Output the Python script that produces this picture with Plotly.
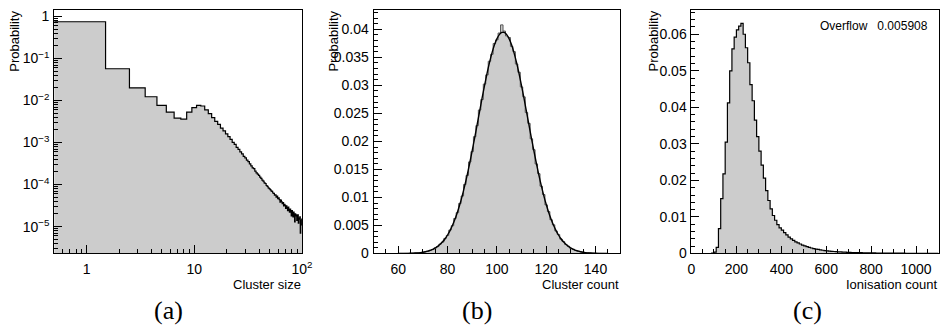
import plotly.graph_objects as go

# ---------------- data ----------------
# (a) cluster size distribution (bins of width 1 centred on integer sizes)
cluster_sizes = list(range(1, 101))
cluster_size_prob = [
    0.75, 0.057, 0.0201, 0.0123, 0.0077, 0.0053, 0.0038, 0.0036, 0.0053, 0.0068,
    0.0077, 0.0074, 0.0060, 0.0049, 0.0039, 0.0032, 0.0027, 0.0022, 0.0019, 0.0016,
    0.00138, 0.00119, 0.00101, 0.00090, 0.00077, 0.00069, 0.00060, 0.00054, 0.00047, 0.00043,
    0.00038, 0.00035, 0.00031, 0.00028, 0.00025, 0.00024, 0.00021, 0.00019, 0.000178, 0.000165,
    0.000150, 0.000141, 0.000128, 0.000121, 0.000110, 0.000106, 0.000095, 0.000091, 0.000083, 0.000080,
    0.000076, 0.000071, 0.000069, 0.000063, 0.000062, 0.000056, 0.000057, 0.000050, 0.000053, 0.000046,
    0.000048, 0.000044, 0.000038, 0.000043, 0.000039, 0.000035, 0.000037, 0.000031, 0.000034, 0.000032,
    0.000027, 0.000031, 0.000028, 0.000024, 0.000029, 0.000025, 0.000022, 0.000026, 0.000023, 0.000018,
    0.000024, 0.000021, 0.000017, 0.000022, 0.000019, 0.000013, 0.000020, 0.000018, 0.000019, 0.000014,
    0.000017, 0.000019, 0.000012, 0.000016, 0.000015, 0.000017, 0.0000070, 0.000014, 0.000011, 0.000015,
]

# (b) cluster count distribution (bins of width 1) and fitted curve
cluster_counts = list(range(60, 146))
cluster_count_prob = [
    0.000004, 0.00001, 0.000011, 0.00002, 0.000025, 0.000043, 0.000055, 0.000085, 0.00011, 0.000168,
    0.000215, 0.00031, 0.0004, 0.00057, 0.00072, 0.00101, 0.00123, 0.00168, 0.00203, 0.0027,
    0.00322, 0.00418, 0.00495, 0.00624, 0.00728, 0.00893, 0.01025, 0.01232, 0.01392, 0.01634,
    0.01818, 0.02085, 0.02282, 0.02561, 0.02748, 0.03024, 0.03188, 0.03431, 0.03556, 0.03748,
    0.03812, 0.03935, 0.0408, 0.0397, 0.03882, 0.03855, 0.03696, 0.03602, 0.03381, 0.03234,
    0.02972, 0.02795, 0.02515, 0.02322, 0.02046, 0.01852, 0.01598, 0.01425, 0.01201, 0.01052,
    0.00868, 0.00748, 0.00603, 0.00512, 0.00402, 0.00338, 0.00257, 0.00213, 0.00159, 0.0013,
    0.00094, 0.00077, 0.00053, 0.00043, 0.00029, 0.00023, 0.000155, 0.00012, 0.00008, 0.00006,
    0.000038, 0.000029, 0.000017, 0.000013, 0.000007, 0.000005,
]
cluster_count_fit = [
    0.000005, 0.000008, 0.000012, 0.000018, 0.000027, 0.00004, 0.000057, 0.000082, 0.000115, 0.00016,
    0.00022, 0.0003, 0.00041, 0.00055, 0.00074, 0.00097, 0.00126, 0.00163, 0.00208, 0.00263,
    0.0033, 0.00409, 0.00503, 0.00611, 0.00737, 0.00879, 0.01038, 0.01215, 0.01408, 0.01615,
    0.01835, 0.02064, 0.023, 0.02537, 0.02771, 0.02997, 0.0321, 0.03405, 0.03577, 0.0372,
    0.03831, 0.03907, 0.03945, 0.03945, 0.03907, 0.03831, 0.0372, 0.03577, 0.03405, 0.0321,
    0.02997, 0.02771, 0.02537, 0.023, 0.02064, 0.01835, 0.01615, 0.01408, 0.01215, 0.01038,
    0.00879, 0.00737, 0.00611, 0.00503, 0.00409, 0.0033, 0.00263, 0.00208, 0.00163, 0.00126,
    0.00097, 0.00074, 0.00055, 0.00041, 0.0003, 0.00022, 0.00016, 0.000115, 0.000082, 0.000057,
    0.00004, 0.000027, 0.000018, 0.000012, 0.000008, 0.000005,
]

# (c) ionisation count distribution (bins of width 10, lower edges 0..1090)
ion_bin_low = list(range(0, 1100, 10))
ion_prob = [
    0, 0, 0, 0, 0, 0, 0, 0, 0, 0.0001,
    0.0004, 0.0017, 0.0068, 0.0150, 0.0218, 0.0305, 0.0412, 0.0500, 0.0560, 0.0592,
    0.0612, 0.0622, 0.0630, 0.0600, 0.0563, 0.0522, 0.0462, 0.0418, 0.0365, 0.0320,
    0.0280, 0.0242, 0.0206, 0.0172, 0.0145, 0.0122, 0.0104, 0.0091, 0.0079, 0.0070,
    0.0064, 0.0057, 0.0051, 0.0045, 0.0040, 0.0036, 0.0032, 0.0029, 0.0026, 0.0023,
    0.0021, 0.0019, 0.0017, 0.0015, 0.00135, 0.0012, 0.0011, 0.00098, 0.00088, 0.0008,
    0.00072, 0.00066, 0.0006, 0.00055, 0.0005, 0.00046, 0.00042, 0.00039, 0.00036, 0.00033,
    0.0003, 0.00027, 0.00026, 0.00024, 0.00022, 0.00021, 0.0002, 0.00018, 0.00017, 0.00016,
    0.00015, 0.00015, 0.00014, 0.00013, 0.00012, 0.00012, 0.00011, 0.00011, 0.0001, 0.000095,
    0.00009, 0.000088, 0.000082, 0.00008, 0.000075, 0.000072, 0.00007, 0.000066, 0.000063, 0.00006,
    0.000058, 0.000055, 0.000053, 0.00005, 0.000049, 0.000047, 0.000045, 0.000043, 0.000041, 0.00004,
]
ion_bin_width = 10
overflow_text = "Overflow\u00a0\u00a0\u00a00.005908"

# ---------------- style ----------------
W, H = 952, 333
FONT = "Liberation Sans"
SERIF = "Liberation Serif"
FILL = "#cccccc"
TICK_SIZE = 14
TITLE_SIZE = 13


def px_x(a, b):
    return [a / W, b / W]


ydom = [(H - 259.5) / H, (H - 9) / H]


def step(edges_low, width, vals):
    xs = [e for e in edges_low] + [edges_low[-1] + width]
    ys = list(vals) + [vals[-1]]
    return xs, ys


fig = go.Figure()

# (a)
xa, ya = step([s - 0.5 for s in cluster_sizes], 1, cluster_size_prob)
fig.add_trace(go.Scatter(x=xa, y=ya, mode="lines", line=dict(shape="hv", color="black", width=1.2),
                         fill="tozeroy", fillcolor=FILL, xaxis="x", yaxis="y", showlegend=False))
# (b)
xb, yb = step([c - 0.5 for c in cluster_counts], 1, cluster_count_prob)
fig.add_trace(go.Scatter(x=xb, y=yb, mode="lines", line=dict(shape="hv", color="#555555", width=1),
                         fill="tozeroy", fillcolor=FILL, xaxis="x2", yaxis="y2", showlegend=False))
fig.add_trace(go.Scatter(x=cluster_counts, y=cluster_count_fit, mode="lines",
                         line=dict(shape="spline", color="black", width=1.4),
                         xaxis="x2", yaxis="y2", showlegend=False))
# (c)
xc, yc = step(ion_bin_low, ion_bin_width, ion_prob)
fig.add_trace(go.Scatter(x=xc, y=yc, mode="lines", line=dict(shape="hv", color="black", width=1.2),
                         fill="tozeroy", fillcolor=FILL, xaxis="x3", yaxis="y3", showlegend=False))

common = dict(showline=True, linecolor="black", linewidth=1, mirror=True, ticks="inside",
              tickcolor="black", showgrid=False, zeroline=False,
              tickfont=dict(family=FONT, size=TICK_SIZE, color="black"))
xcommon = dict(ticklabelstandoff=3, **common)
ycommon = dict(ticklabelstandoff=1, **common)

fig.update_layout(
    width=W, height=H, margin=dict(l=0, r=0, t=0, b=0),
    paper_bgcolor="white", plot_bgcolor="white",
    font=dict(family=FONT, size=TICK_SIZE, color="black"),
    xaxis=dict(domain=px_x(51, 302.7), type="log", range=[-0.30103, 2], anchor="y",
               tickvals=[1, 10, 100], ticktext=["1", "10", "10<sup>2</sup>"], ticklen=8,
               minor=dict(ticks="inside", ticklen=4, tickcolor="black", dtick="D1"), **xcommon),
    yaxis=dict(domain=ydom, type="log", range=[-5.64, 0.16], anchor="x",
               tickvals=[1, 0.1, 0.01, 0.001, 0.0001, 0.00001],
               ticktext=["1", "10<sup>−1</sup>", "10<sup>−2</sup>", "10<sup>−3</sup>",
                         "10<sup>−4</sup>", "10<sup>−5</sup>"], ticklen=8,
               minor=dict(ticks="inside", ticklen=4, tickcolor="black", dtick="D1"), **ycommon),
    xaxis2=dict(domain=px_x(375.5, 626), range=[50, 150], anchor="y2", dtick=20, tick0=0, ticklen=7,
                minor=dict(ticks="inside", ticklen=4, tickcolor="black", dtick=5), **xcommon),
    yaxis2=dict(domain=ydom, range=[0, 0.0435], anchor="x2", dtick=0.005, ticklen=8,
                minor=dict(ticks="inside", ticklen=4, tickcolor="black", dtick=0.001), **ycommon),
    xaxis3=dict(domain=px_x(698.5, 949.5), range=[0, 1100], anchor="y3", dtick=200, ticklen=7,
                minor=dict(ticks="inside", ticklen=4, tickcolor="black", dtick=50), **xcommon),
    yaxis3=dict(domain=ydom, range=[0, 0.0667], anchor="x3", dtick=0.01, ticklen=8,
                minor=dict(ticks="inside", ticklen=4, tickcolor="black", dtick=0.002), **ycommon),
)

ann_font = dict(family=FONT, size=TITLE_SIZE, color="black")


def ann(text, x, y, xanchor="center", yanchor="middle", angle=0, font=ann_font):
    fig.add_annotation(text=text, x=x / W, y=(H - y) / H, xref="paper", yref="paper",
                       xanchor=xanchor, yanchor=yanchor, showarrow=False, textangle=angle,
                       font=font, borderpad=0)


# axis titles
ann("Cluster size", 303, 291, xanchor="right")
ann("Cluster count", 626, 291, xanchor="right")
ann("Ionisation count", 949, 291, xanchor="right")
ann("Probability", 11, 41, angle=-90)
ann("Probability", 335, 41, angle=-90)
ann("Probability", 660, 41, angle=-90)
ann(overflow_text, 940, 26, xanchor="right", font=dict(family=FONT, size=12, color="black"))

cap_font = dict(family=SERIF, size=26, color="black")
ann("(a)", 167, 318, font=cap_font)
ann("(b)", 481, 318, font=cap_font)
ann("(c)", 816, 318, font=cap_font)

fig.write_html("out.html")
